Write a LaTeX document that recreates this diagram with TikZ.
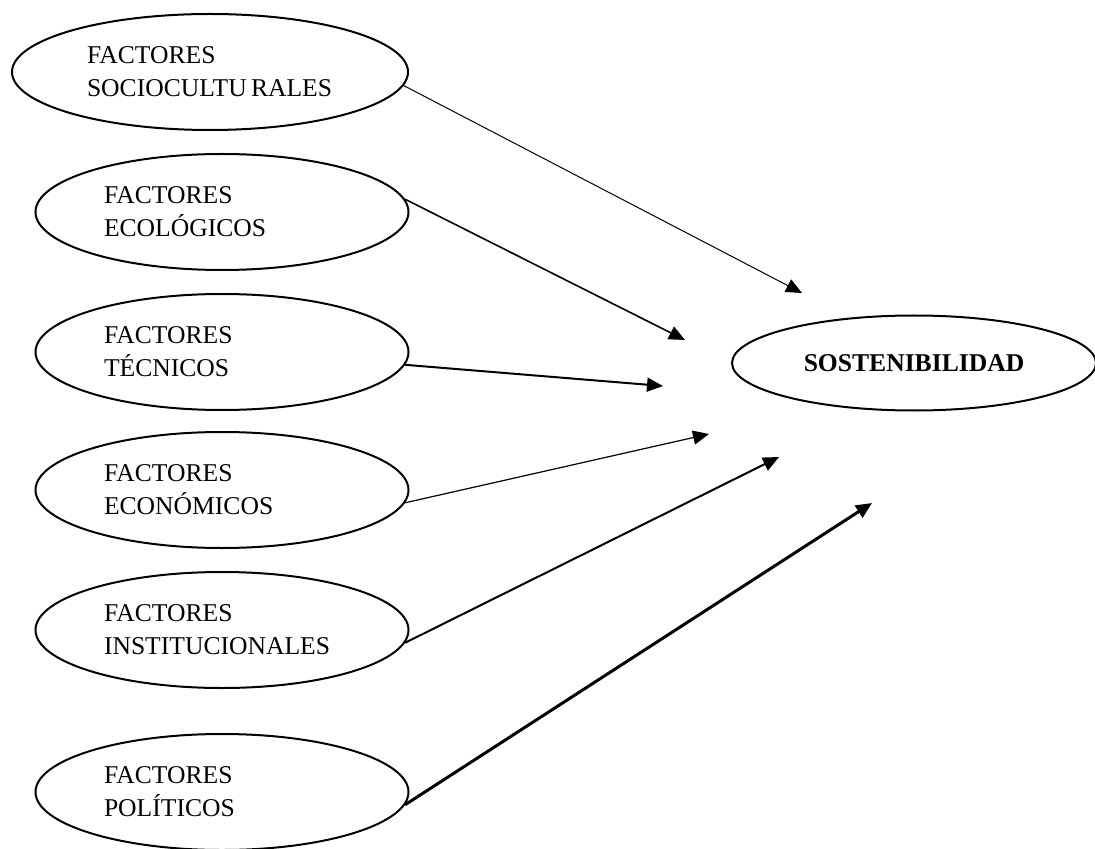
\documentclass[tikz,border=0pt]{standalone}
\usepackage{fontspec}
\setmainfont{Liberation Serif}
\usetikzlibrary{shapes.geometric,arrows.meta}

\tikzset{
  factor/.style={draw,ellipse,line width=1pt,minimum width=186.5pt,minimum height=58pt,
    inner sep=0pt,text width=118pt,align=left,font=\fontsize{12.8}{16.5}\selectfont},
  flecha/.style={-{Triangle[length=8pt,width=7pt]}}
}

\begin{document}
\begin{tikzpicture}[x=0.5pt,y=-0.5pt]
        \useasboundingbox (0,0) rectangle (1095,849);

        % Factores
        \node[factor,minimum width=198pt,text width=123pt] (soc) at (210,72) {FACTORES\\SOCIOCULTU\,RALES};
        \node[factor] (eco) at (222,212) {FACTORES\\ECOLÓGICOS};
        \node[factor] (tec) at (222,352) {FACTORES\\TÉCNICOS};
        \node[factor] (econ) at (222,490) {FACTORES\\ECONÓMICOS};
        \node[factor] (inst) at (222,630) {FACTORES\\INSTITUCIONALES};
        \node[factor] (pol) at (222,792) {FACTORES\\POLÍTICOS};

        % Sostenibilidad
        \node[draw,ellipse,line width=1pt,minimum width=182pt,minimum height=47.5pt,inner sep=0pt,
          font=\fontsize{12.8}{16.5}\selectfont\bfseries] (sost) at (914,363) {SOSTENIBILIDAD\\[3pt]};

        % Puntas de flecha
        \coordinate (p1) at (802,293);
        \coordinate (p2) at (685,340);
        \coordinate (p3) at (663,386);
        \coordinate (p4) at (709,434);
        \coordinate (p5) at (779,457);
        \coordinate (p6) at (872,503);

        % Flechas
        \draw[flecha,line width=0.5pt] (soc.-4) -- (p1);
        \draw[flecha,line width=0.8pt] (eco.4) -- (p2);
        \draw[flecha,line width=1pt] (tec.-4) -- (p3);
        \draw[flecha,line width=0.6pt] (econ.-4) -- (p4);
        \draw[flecha,line width=1pt] (inst.-4) -- (p5);
        \draw[flecha,line width=1.5pt] (pol.-4) -- (p6);
    \end{tikzpicture}
\end{document}
